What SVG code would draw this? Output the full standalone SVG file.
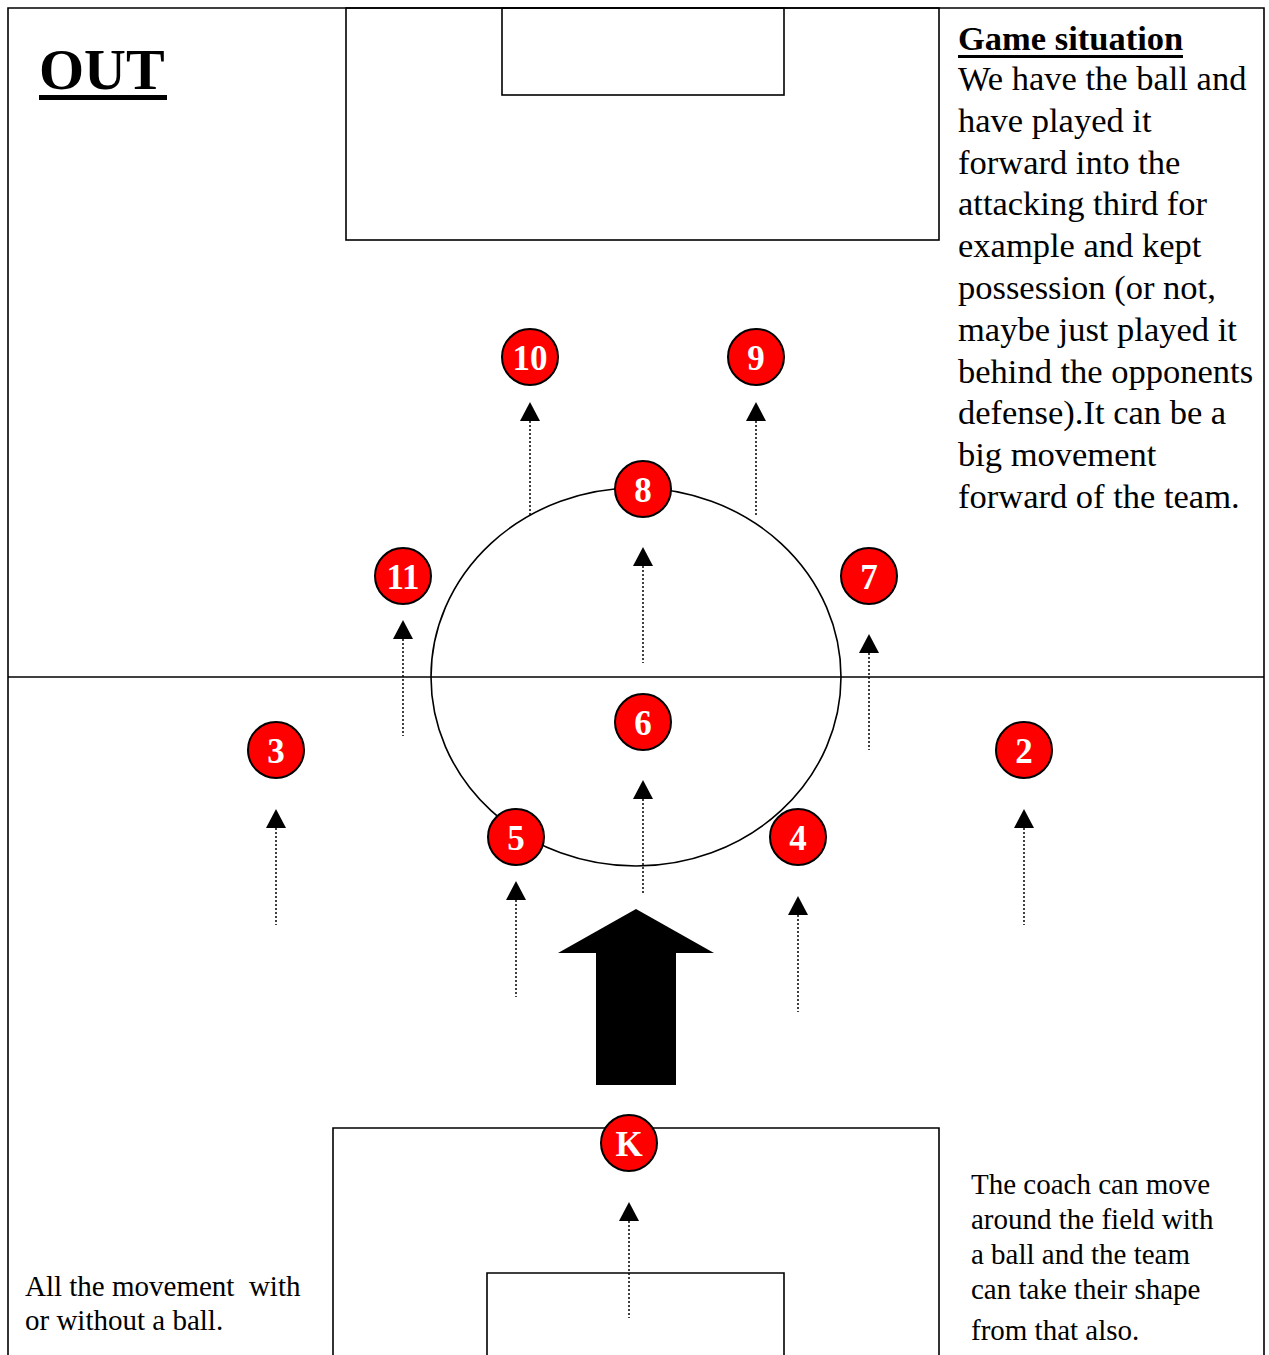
<svg xmlns="http://www.w3.org/2000/svg" width="1269" height="1355" viewBox="0 0 1269 1355">
<style>
.ln{fill:none;stroke:#000;stroke-width:1.6}
.pl circle{fill:#f00;stroke:#000;stroke-width:2}
.pl text{fill:#fff;font-family:"Liberation Serif",serif;font-weight:bold;font-size:35px;text-anchor:middle}
.dot{stroke:#000;stroke-width:1.5;stroke-dasharray:2 2;fill:none}
.hd{fill:#000}
.tx{font-family:"Liberation Serif",serif;fill:#000}
</style>
<rect width="1269" height="1355" fill="#fff"/>
<g id="field">
<path class="ln" d="M8 1355V8H1264V1355"/>
<line class="ln" x1="8" y1="677" x2="1264" y2="677"/>
<rect class="ln" x="346" y="8" width="593" height="232"/>
<rect class="ln" x="502" y="8" width="282" height="87"/>
<path class="ln" d="M333 1355V1128H939V1355"/>
<path class="ln" d="M487 1355V1273H784V1355"/>
<ellipse class="ln" cx="636" cy="677" rx="205" ry="189"/>
</g>
<g id="connectors">
<g id="arr-10"><line class="dot" x1="530" y1="421" x2="530" y2="517"/><path class="hd" d="M530 402L540 421H520Z"/></g>
<g id="arr-9"><line class="dot" x1="756" y1="421" x2="756" y2="517"/><path class="hd" d="M756 402L766 421H746Z"/></g>
<g id="arr-8"><line class="dot" x1="643" y1="566" x2="643" y2="663"/><path class="hd" d="M643 547L653 566H633Z"/></g>
<g id="arr-11"><line class="dot" x1="403" y1="639" x2="403" y2="736"/><path class="hd" d="M403 620L413 639H393Z"/></g>
<g id="arr-7"><line class="dot" x1="869" y1="653" x2="869" y2="750"/><path class="hd" d="M869 634L879 653H859Z"/></g>
<g id="arr-6"><line class="dot" x1="643" y1="799" x2="643" y2="895"/><path class="hd" d="M643 780L653 799H633Z"/></g>
<g id="arr-3"><line class="dot" x1="276" y1="828" x2="276" y2="925"/><path class="hd" d="M276 809L286 828H266Z"/></g>
<g id="arr-2"><line class="dot" x1="1024" y1="828" x2="1024" y2="925"/><path class="hd" d="M1024 809L1034 828H1014Z"/></g>
<g id="arr-5"><line class="dot" x1="516" y1="900" x2="516" y2="997"/><path class="hd" d="M516 881L526 900H506Z"/></g>
<g id="arr-4"><line class="dot" x1="798" y1="915" x2="798" y2="1012"/><path class="hd" d="M798 896L808 915H788Z"/></g>
<g id="arr-k"><line class="dot" x1="629" y1="1221" x2="629" y2="1318"/><path class="hd" d="M629 1202L639 1221H619Z"/></g>
<path id="big-arrow" d="M636 909L714 953H676V1085H596V953H558Z" fill="#000"/>
</g>
<g id="p10" class="pl"><circle cx="530" cy="357" r="28"/><text x="530" y="370">10</text></g>
<g id="p9" class="pl"><circle cx="756" cy="357" r="28"/><text x="756" y="370">9</text></g>
<g id="p8" class="pl"><circle cx="643" cy="489" r="28"/><text x="643" y="502">8</text></g>
<g id="p11" class="pl"><circle cx="403" cy="576" r="28"/><text x="403" y="589">11</text></g>
<g id="p7" class="pl"><circle cx="869" cy="576" r="28"/><text x="869" y="589">7</text></g>
<g id="p6" class="pl"><circle cx="643" cy="722" r="28"/><text x="643" y="735">6</text></g>
<g id="p3" class="pl"><circle cx="276" cy="750" r="28"/><text x="276" y="763">3</text></g>
<g id="p2" class="pl"><circle cx="1024" cy="750" r="28"/><text x="1024" y="763">2</text></g>
<g id="p5" class="pl"><circle cx="516" cy="837" r="28"/><text x="516" y="850">5</text></g>
<g id="p4" class="pl"><circle cx="798" cy="837" r="28"/><text x="798" y="850">4</text></g>
<g id="pk" class="pl"><circle cx="629" cy="1143" r="28"/><text x="629" y="1156">K</text></g>
<g id="title">
<text class="tx" x="39" y="89" font-size="58" font-weight="bold">OUT</text>
<rect x="39" y="95" width="128" height="5" fill="#000"/>
</g>
<g id="game-situation" class="tx" font-size="34.5">
<text x="958" y="50" font-weight="bold">Game situation</text>
<rect x="958" y="55" width="225" height="3" fill="#000"/>
<text x="958" y="90">We have the ball and</text>
<text x="958" y="132">have played it</text>
<text x="958" y="174">forward into the</text>
<text x="958" y="215">attacking third for</text>
<text x="958" y="257">example and kept</text>
<text x="958" y="299">possession (or not,</text>
<text x="958" y="341">maybe just played it</text>
<text x="958" y="383">behind the opponents</text>
<text x="958" y="424">defense).It can be a</text>
<text x="958" y="466">big movement</text>
<text x="958" y="508">forward of the team.</text>
</g>
<g id="note-left" class="tx" font-size="29">
<text x="25" y="1296" xml:space="preserve">All the movement  with</text>
<text x="25" y="1330">or without a ball.</text>
</g>
<g id="note-right" class="tx" font-size="29">
<text x="971" y="1194">The coach can move</text>
<text x="971" y="1229">around the field with</text>
<text x="971" y="1264">a ball and the team</text>
<text x="971" y="1299">can take their shape</text>
<text x="971" y="1340">from that also.</text>
</g>
</svg>
